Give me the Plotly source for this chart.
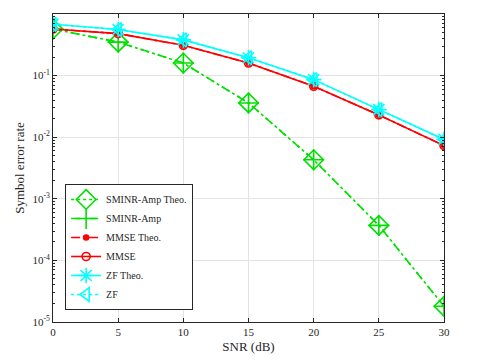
import plotly.graph_objects as go

snr_db = [0, 5, 10, 15, 20, 25, 30]

sminr_amp_theo = [0.57, 0.35, 0.16, 0.036, 0.0043, 0.00037, 0.000018]
sminr_amp = [0.57, 0.35, 0.16, 0.036, 0.0043, 0.00037, 0.000018]
mmse_theo = [0.57, 0.48, 0.31, 0.16, 0.067, 0.023, 0.0073]
mmse = [0.57, 0.48, 0.31, 0.16, 0.067, 0.023, 0.0073]
zf_theo = [0.68, 0.56, 0.38, 0.195, 0.086, 0.028, 0.0092]
zf = [0.68, 0.56, 0.38, 0.195, 0.086, 0.028, 0.0092]

y_tick_vals = [1e-5, 1e-4, 1e-3, 1e-2, 1e-1, 1]
y_tick_text = ["10<sup>-5</sup>", "10<sup>-4</sup>", "10<sup>-3</sup>",
               "10<sup>-2</sup>", "10<sup>-1</sup>", "10<sup>0</sup>"]

series = [
    ("SMINR-Amp Theo.", sminr_amp_theo, "#00e000", "dot", "diamond-open", 15),
    ("SMINR-Amp", sminr_amp, "#00e000", "dash", "cross-thin-open", 15),
    ("MMSE Theo.", mmse_theo, "#ff0000", "dashdot", "circle", 5),
    ("MMSE", mmse, "#ff0000", "solid", "circle-open", 8),
    ("ZF Theo.", zf_theo, "#00ffff", "solid", "asterisk-open", 13),
    ("ZF", zf, "#00ffff", "dot", "triangle-left-open", 12),
]

serif = "Liberation Serif, Times New Roman, serif"

fig = go.Figure()
for name, vals, color, dash, symbol, size in series:
    fig.add_trace(
        go.Scatter(
            x=snr_db,
            y=vals,
            mode="lines+markers",
            name=name,
            line=dict(color=color, width=1.6, dash=dash),
            marker=dict(symbol=symbol, size=size, color=color, line=dict(color=color, width=1.6)),
        )
    )

# minor ticks 2..9 in every decade
minor_vals = [m * 10.0 ** e for e in range(-5, 0) for m in range(2, 10)]

axis_font = dict(family=serif, size=11, color="#262626")
fig.update_xaxes(
    range=[0, 30],
    dtick=5,
    ticks="inside",
    ticklen=4,
    tickcolor="#262626",
    showgrid=True,
    gridcolor="#e3e3e3",
    showline=True,
    linecolor="#262626",
    linewidth=1,
    mirror="ticks",
    zeroline=False,
    automargin=False,
    tickfont=axis_font,
    title=dict(text="SNR (dB)", font=dict(family=serif, size=13, color="#262626"), standoff=4),
)
fig.update_yaxes(
    type="log",
    range=[-5, 0],
    tickvals=y_tick_vals,
    ticktext=y_tick_text,
    ticks="inside",
    ticklen=4,
    tickcolor="#262626",
    minor=dict(tickvals=minor_vals, ticks="inside", ticklen=2, showgrid=False, tickcolor="#262626"),
    showgrid=True,
    gridcolor="#e3e3e3",
    showline=True,
    linecolor="#262626",
    linewidth=1,
    mirror="ticks",
    zeroline=False,
    automargin=False,
    tickfont=axis_font,
    title=dict(text="Symbol error rate", font=dict(family=serif, size=13, color="#262626"), standoff=4),
)
# the page body keeps its default 8px margin, so the figure is shrunk to fit the window
fig.update_layout(
    width=475,
    height=354,
    margin=dict(l=45, r=39, t=6, b=40),
    plot_bgcolor="white",
    paper_bgcolor="white",
    legend=dict(
        x=0.031,
        y=0.039,
        xanchor="left",
        yanchor="bottom",
        bgcolor="white",
        bordercolor="#262626",
        borderwidth=1,
        font=dict(family=serif, size=10, color="#262626"),
        tracegroupgap=0,
        itemsizing="trace",
    ),
    showlegend=True,
)
fig.write_html("out.html")
